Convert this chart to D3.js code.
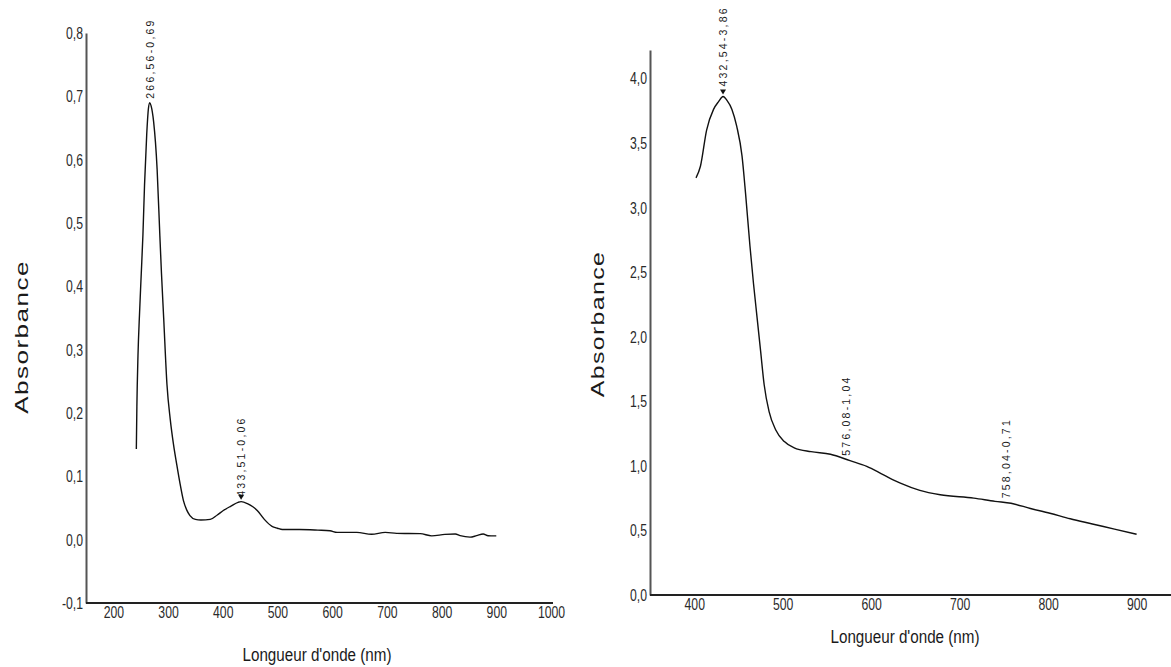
<!DOCTYPE html>
<html>
<head>
<meta charset="utf-8">
<script src="https://cdn.jsdelivr.net/npm/d3@7"></script>
<style>
  html, body { margin: 0; padding: 0; background: #fff; }
  svg { display: block; }
</style>
</head>
<body>
<svg id="chart" width="1171" height="667"></svg>
<script>
// UV-Vis spectrum, sample 1 (200–900 nm scan)
const leftWavelength = [242, 243, 245, 248, 251, 254, 257, 261, 264, 266.56, 269, 273.6, 280, 285, 288, 292, 298, 304, 310, 316, 322, 328, 334, 340, 350, 360, 377, 390, 401, 415, 428, 433.51, 445, 455, 463, 476, 490, 500, 509, 540, 574, 596, 609, 645, 672, 697, 718, 761, 782, 806, 825, 834, 852, 864, 876, 885, 896, 900];
const leftAbsorbance = [0.143, 0.21, 0.29, 0.36, 0.42, 0.48, 0.56, 0.64, 0.68, 0.69, 0.685, 0.66, 0.585, 0.48, 0.42, 0.35, 0.245, 0.19, 0.15, 0.118, 0.088, 0.062, 0.047, 0.038, 0.032, 0.031, 0.032, 0.039, 0.046, 0.053, 0.059, 0.06, 0.057, 0.052, 0.046, 0.032, 0.021, 0.018, 0.016, 0.016, 0.015, 0.014, 0.0115, 0.0115, 0.0085, 0.0115, 0.010, 0.0095, 0.006, 0.0084, 0.009, 0.0063, 0.004, 0.0063, 0.009, 0.0063, 0.006, 0.006];
const leftPeakWavelength = [266.56, 433.51];
const leftPeakAbsorbance = [0.69, 0.06];
const leftXTicks = [200, 300, 400, 500, 600, 700, 800, 900, 1000];
const leftYTicks = [-0.1, 0.0, 0.1, 0.2, 0.3, 0.4, 0.5, 0.6, 0.7, 0.8];

// UV-Vis spectrum, sample 2 (400–900 nm scan)
const rightWavelength = [402, 407, 414, 421.8, 427.5, 432.54, 437, 442.6, 448, 454, 458, 463, 467, 471, 475, 479, 484.6, 492, 501.5, 513, 532, 554, 576.08, 595, 614, 633, 655, 678, 716, 740, 758.04, 780, 802, 825, 850, 875, 900];
const rightAbsorbance = [3.23, 3.32, 3.60, 3.76, 3.82, 3.86, 3.83, 3.76, 3.63, 3.40, 3.11, 2.70, 2.41, 2.15, 1.89, 1.63, 1.42, 1.28, 1.19, 1.14, 1.11, 1.09, 1.04, 0.996, 0.93, 0.866, 0.81, 0.776, 0.75, 0.725, 0.71, 0.67, 0.633, 0.59, 0.55, 0.51, 0.47];
const rightPeakWavelength = [432.54, 576.08, 758.04];
const rightPeakAbsorbance = [3.86, 1.04, 0.71];
const rightXTicks = [400, 500, 600, 700, 800, 900];
const rightYTicks = [0.0, 0.5, 1.0, 1.5, 2.0, 2.5, 3.0, 3.5, 4.0];

const xTitle = "Longueur d'onde (nm)";
const yTitle = "Absorbance";

const svg = d3.select("#chart");
const sans = "'Liberation Sans', Arial, sans-serif";
const NARROW = 0.8;       // horizontal squeeze for the axis title
const TICK_NARROW = 0.72; // tighter squeeze for tick digits
const comma = s => s.replace(".", ",").replace("\u2212", "-");
const fmt1 = v => comma(d3.format(".1f")(v));
const fmt2 = v => comma(d3.format(".2f")(v));

function drawPanel(cfg) {
  const g = svg.append("g");
  const x = d3.scaleLinear().domain(cfg.xDomain).range(cfg.xRange);
  const y = d3.scaleLinear().domain(cfg.yDomain).range(cfg.yRange);

  // y axis
  const ya = g.append("g")
    .attr("transform", `translate(${cfg.xRange[0]},0)`)
    .call(d3.axisLeft(y).tickValues(cfg.yTicks).tickFormat(fmt1).tickSize(0).tickPadding(3));
  ya.select(".domain").attr("stroke", "#555").attr("stroke-width", 2);
  ya.selectAll(".tick text")
    .attr("x", 0)
    .attr("transform", `translate(-3,0) scale(${TICK_NARROW},1)`)
    .attr("font-family", sans).attr("font-size", cfg.tickFont).attr("fill", "#2a2a2a");

  // x axis
  const xa = g.append("g")
    .attr("transform", `translate(0,${cfg.yRange[0]})`)
    .call(d3.axisBottom(x).tickValues(cfg.xTicks).tickFormat(d3.format("d")).tickSize(0).tickPadding(cfg.xPad));
  xa.select(".domain").attr("stroke", "#222").attr("stroke-width", 2).attr("d", `M${cfg.xRange[0]},0H${cfg.xEnd}`);
  xa.selectAll(".tick text")
    .attr("transform", `scale(${TICK_NARROW},1)`)
    .attr("font-family", sans).attr("font-size", cfg.tickFont).attr("fill", "#2a2a2a");

  // spectrum
  const pts = cfg.wl.map((w, i) => [w, cfg.abs[i]]);
  g.append("path")
    .datum(pts)
    .attr("fill", "none")
    .attr("stroke", "#111")
    .attr("stroke-width", 1.4)
    .attr("stroke-linejoin", "round")
    .attr("d", d3.line().curve(d3.curveMonotoneX).x(d => x(d[0])).y(d => y(d[1])));

  // peak annotations (rotated, reading upward)
  cfg.peakWl.forEach((w, i) => {
    const a = cfg.peakAbs[i];
    const px = x(w) + (cfg.peakDx[i] || 0);
    const py = y(a) - cfg.peakGap[i];
    g.append("text")
      .attr("transform", `translate(${px},${py}) rotate(-90)`)
      .attr("text-anchor", "start")
      .attr("dominant-baseline", "central")
      .attr("font-family", sans)
      .attr("font-size", 10.5)
      .attr("letter-spacing", 2.2)
      .attr("fill", "#1a1a1a")
      .text(`${fmt2(w)}-${fmt2(a)}`);
    if (cfg.peakArrow[i]) {
      const ty = y(a) - 2;
      g.append("path")
        .attr("d", `M${px - 3},${ty - 5}L${px + 3},${ty - 5}L${px},${ty}Z`)
        .attr("fill", "#111");
    }
  });

  // titles
  g.append("text")
    .attr("transform", `translate(${cfg.xTitlePos[0]},${cfg.xTitlePos[1]}) scale(${NARROW},1)`)
    .attr("text-anchor", "middle")
    .attr("font-family", sans)
    .attr("font-size", 19)
    .attr("fill", "#1a1a1a")
    .text(xTitle);
  g.append("text")
    .attr("transform", `translate(${cfg.yTitlePos[0]},${cfg.yTitlePos[1]}) rotate(-90) scale(${cfg.yTitleStretch},1)`)
    .attr("text-anchor", "middle")
    .attr("dominant-baseline", "central")
    .attr("font-family", sans)
    .attr("font-size", 18)
    .attr("letter-spacing", 1)
    .attr("fill", "#1a1a1a")
    .text(yTitle);
}

drawPanel({
  xDomain: [150, 1000], xRange: [86, 551], xEnd: 553,
  yDomain: [-0.1, 0.8], yRange: [603, 33],
  xTicks: leftXTicks, yTicks: leftYTicks, tickFont: 17, xPad: 3,
  wl: leftWavelength, abs: leftAbsorbance,
  peakWl: leftPeakWavelength, peakAbs: leftPeakAbsorbance,
  peakDx: [0, 0], peakGap: [4, 5], peakArrow: [false, true],
  xTitlePos: [317, 661], yTitlePos: [22, 337], yTitleStretch: 1.45
});

drawPanel({
  xDomain: [350, 940], xRange: [650, 1172], xEnd: 1171,
  yDomain: [0, 4.22], yRange: [595, 50],
  xTicks: rightXTicks, yTicks: rightYTicks, tickFont: 17, xPad: 3,
  wl: rightWavelength, abs: rightAbsorbance,
  peakWl: rightPeakWavelength, peakAbs: rightPeakAbsorbance,
  peakDx: [0, -4, -5], peakGap: [10, 5, 5], peakArrow: [true, false, false],
  xTitlePos: [905, 643], yTitlePos: [598, 324], yTitleStretch: 1.38
});
</script>
</body>
</html>
